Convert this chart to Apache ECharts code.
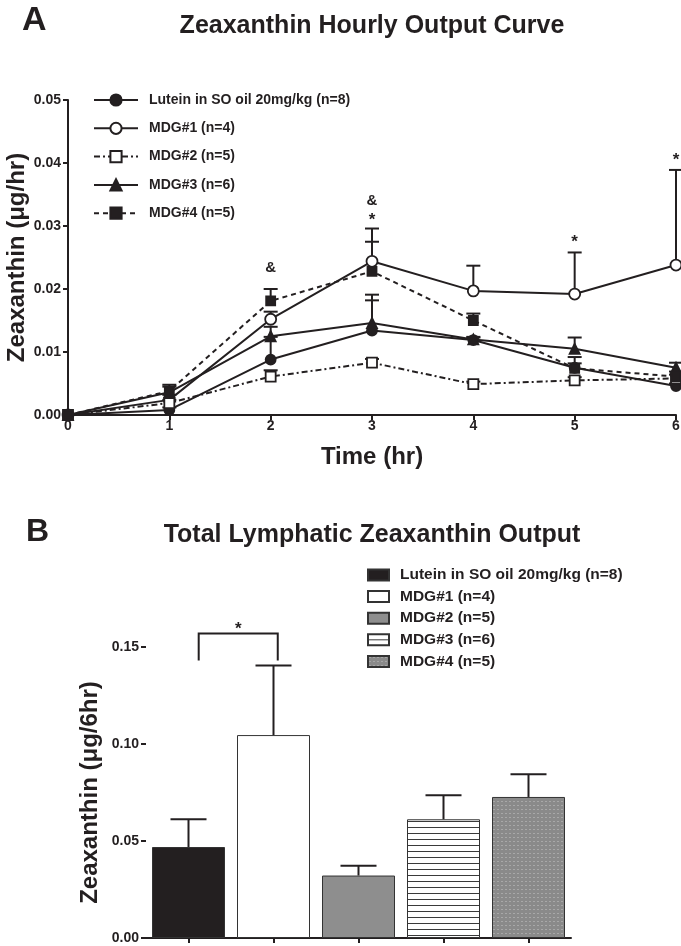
<!DOCTYPE html>
<html><head><meta charset="utf-8">
<script src="https://cdn.jsdelivr.net/npm/echarts@6/dist/echarts.min.js"></script>
<style>html,body{margin:0;padding:0;background:#fff}#c{width:681px;height:946px}</style>
</head><body><div id="c"></div>
<script>
// ---------- data ----------
const hours = [0, 1, 2, 3, 4, 5, 6];
const groupNames = ['Lutein in SO oil 20mg/kg (n=8)', 'MDG#1 (n=4)', 'MDG#2 (n=5)', 'MDG#3 (n=6)', 'MDG#4 (n=5)'];
const barCats = ['Lutein', 'MDG#1', 'MDG#2', 'MDG#3', 'MDG#4'];

const luteinMean = [0, 0.0008, 0.0088, 0.0134, 0.0119, 0.0075, 0.0046];
const luteinErr  = [0, 0.0004, 0.0036, 0.0048, 0.0004, 0.0007, 0.0004];
const mdg1Mean   = [0, 0.0024, 0.0152, 0.0244, 0.0197, 0.0192, 0.0238];
const mdg1Err    = [0, 0.0008, 0.0012, 0.0052, 0.0040, 0.0066, 0.0151];
const mdg2Mean   = [0, 0.0019, 0.0061, 0.0083, 0.0049, 0.0055, 0.0058];
const mdg2Err    = [0, 0.0005, 0.0010, 0.0006, 0.0004, 0.0005, 0.0006];
const mdg3Mean   = [0, 0.0036, 0.0125, 0.0146, 0.0120, 0.0105, 0.0075];
const mdg3Err    = [0, 0.0009, 0.0015, 0.0045, 0.0004, 0.0018, 0.0008];
const mdg4Mean   = [0, 0.0038, 0.0181, 0.0228, 0.0150, 0.0074, 0.0061];
const mdg4Err    = [0, 0.0010, 0.0019, 0.0047, 0.0011, 0.0018, 0.0008];

// significance marks on panel A (hour, value, symbol)
const annHour = [2, 3, 3, 5, 6];
const annValue = [0.0233, 0.0340, 0.0316, 0.0280, 0.0411];
const annText = ['&', '&', '*', '*', '*'];

const totalMean = [0.0469, 0.1046, 0.0322, 0.0612, 0.0727];
const totalErr  = [0.0143, 0.0358, 0.0051, 0.0124, 0.0117];
const sigPair = [0, 1];
const sigValue = 0.1569;
const sigText = '*';

// ---------- styling ----------
const ink = '#231f20';
const FF = "'Liberation Sans', Arial, Helvetica, sans-serif";
const means = [luteinMean, mdg1Mean, mdg2Mean, mdg3Mean, mdg4Mean];
const errs = [luteinErr, mdg1Err, mdg2Err, mdg3Err, mdg4Err];
const lineLook = [
  {symbol: 'circle', fill: ink, dash: 'solid', size: 10},
  {symbol: 'circle', fill: '#fff', dash: 'solid', size: 11},
  {symbol: 'rect', fill: '#fff', dash: [6, 3, 2, 3], size: 10},
  {symbol: 'triangle', fill: ink, dash: 'solid', size: 10},
  {symbol: 'rect', fill: ink, dash: [5, 4], size: 9}
];

function makePattern(w, h, draw) {
  const c = document.createElement('canvas');
  c.width = w; c.height = h;
  draw(c.getContext('2d'));
  return {image: c, repeat: 'repeat'};
}
const stripes = makePattern(8, 6, g => {
  g.fillStyle = '#fff'; g.fillRect(0, 0, 8, 6);
  g.fillStyle = '#3a3a3a'; g.fillRect(0, 5, 8, 1);
});
const dots = makePattern(4, 4, g => {
  g.fillStyle = '#8a8a8a'; g.fillRect(0, 0, 4, 4);
  g.fillStyle = '#a8a8a8'; g.fillRect(1, 1, 2, 1);
});
const barFills = [ink, '#fff', '#8e8e8e', stripes, dots];

const chart = echarts.init(document.getElementById('c'), null, {renderer: 'canvas'});

const axisCommon = {
  axisLine: {onZero: false, lineStyle: {color: ink, width: 2}},
  axisTick: {show: true, length: 5, lineStyle: {color: ink, width: 2}},
  axisLabel: {color: ink, fontSize: 14, fontWeight: 'bold', fontFamily: FF},
  splitLine: {show: false},
  nameMoveOverlap: false,
  nameTextStyle: {color: ink, fontSize: 24, fontWeight: 'bold', fontFamily: FF}
};

function errRender(capW) {
  return function (params, api) {
    const x = api.value(0), m = api.value(1), e = api.value(2);
    if (!e) return null;
    const p0 = api.coord([x, m]);
    const p1 = api.coord([x, m + e]);
    const st = {stroke: ink, lineWidth: 2};
    return {type: 'group', children: [
      {type: 'line', shape: {x1: p0[0], y1: p0[1], x2: p1[0], y2: p1[1]}, style: st},
      {type: 'line', shape: {x1: p1[0] - capW / 2, y1: p1[1], x2: p1[0] + capW / 2, y2: p1[1]}, style: st}
    ]};
  };
}

const series = [];
// error bars A
means.forEach((m, i) => {
  series.push({
    type: 'custom', xAxisIndex: 0, yAxisIndex: 0, z: 1, silent: true, clip: false,
    renderItem: errRender(14),
    encode: {x: 0, y: 1},
    data: hours.map((h, j) => [h, m[j], errs[i][j]])
  });
});
// lines A
means.forEach((m, i) => {
  const L = lineLook[i];
  series.push({
    type: 'line', name: groupNames[i], xAxisIndex: 0, yAxisIndex: 0, z: 3 + i,
    data: hours.map((h, j) => [h, m[j]]),
    symbol: L.symbol, symbolSize: L.size, showAllSymbol: true, clip: false,
    lineStyle: {color: ink, width: 2, type: L.dash},
    itemStyle: {color: L.fill, borderColor: ink, borderWidth: 1.8}
  });
});
// annotations A
series.push({
  type: 'custom', xAxisIndex: 0, yAxisIndex: 0, z: 10, silent: true, clip: false,
  encode: {x: 0, y: 1},
  data: annHour.map((h, i) => [h, annValue[i], i]),
  renderItem: (params, api) => {
    const p = api.coord([api.value(0), api.value(1)]);
    const t = annText[api.value(2)];
    return {type: 'text', x: p[0], y: p[1] + (t === '*' ? 4 : 0), style: {
      text: t, fill: ink, fontSize: t === '*' ? 17 : 15, fontWeight: 'bold', fontFamily: FF,
      align: 'center', verticalAlign: 'middle'}};
  }
});
// bars B
groupNames.forEach((n, i) => {
  series.push({
    type: 'bar', name: 'B|' + n, xAxisIndex: 1, yAxisIndex: 1, z: 2,
    data: barCats.map((c, j) => (j === i ? totalMean[i] : null)),
    barWidth: 73, barGap: '-100%',
    itemStyle: {color: barFills[i], borderColor: '#333', borderWidth: 1}
  });
});
// error bars B
series.push({
  type: 'custom', xAxisIndex: 1, yAxisIndex: 1, z: 3, silent: true, clip: false,
  renderItem: errRender(36),
  encode: {x: 0, y: 1},
  data: totalMean.map((m, i) => [i, m, totalErr[i]])
});
// significance bracket B
series.push({
  type: 'custom', xAxisIndex: 1, yAxisIndex: 1, z: 4, silent: true, clip: false,
  encode: {x: 0, y: 1},
  data: [[sigPair[0], sigValue, sigPair[1]]],
  renderItem: (params, api) => {
    const a = api.coord([api.value(0), api.value(1)]);
    const b = api.coord([api.value(2), api.value(1)]);
    const step = b[0] - a[0];
    const x1 = a[0] + step * 0.12, x2 = b[0] + step * 0.05, y = a[1];
    const st = {stroke: ink, lineWidth: 2};
    return {type: 'group', children: [
      {type: 'polyline', shape: {points: [[x1, y + 27], [x1, y], [x2, y], [x2, y + 27]]}, style: Object.assign({fill: null}, st)},
      {type: 'text', x: (x1 + x2) / 2, y: y - 4, style: {text: sigText, fill: ink, fontSize: 17, fontWeight: 'bold', fontFamily: FF, align: 'center', verticalAlign: 'middle'}}
    ]};
  }
});

chart.setOption({
  animation: false,
  backgroundColor: '#fff',
  textStyle: {fontFamily: FF},
  graphic: [
    {type: 'text', left: 22, top: 4, style: {text: 'A', fontSize: 34, fontWeight: 'bold', fontFamily: FF, fill: ink}},
    {type: 'text', x: 372, y: 26, style: {text: 'Zeaxanthin Hourly Output Curve', fontSize: 25, fontWeight: 'bold', fontFamily: FF, fill: ink, align: 'center', verticalAlign: 'middle'}},
    {type: 'text', left: 26, top: 516, style: {text: 'B', fontSize: 32, fontWeight: 'bold', fontFamily: FF, fill: ink}},
    {type: 'text', x: 372, y: 535, style: {text: 'Total Lymphatic Zeaxanthin Output', fontSize: 25, fontWeight: 'bold', fontFamily: FF, fill: ink, align: 'center', verticalAlign: 'middle'}}
  ],
  legend: [
    {
      data: groupNames, orient: 'vertical', left: 93, top: 93, padding: 0,
      itemWidth: 44, itemHeight: 14, itemGap: 14.3,
      textStyle: {color: ink, fontSize: 14, fontWeight: 'bold', fontFamily: FF, padding: [0, 0, 0, 6], lineHeight: 14},
      selectedMode: false
    },
    {
      data: groupNames.map(n => 'B|' + n), orient: 'vertical', left: 367, top: 567, padding: 0,
      icon: 'rect', itemWidth: 21, itemHeight: 11, itemGap: 5.6,
      formatter: n => n.slice(2),
      textStyle: {color: ink, fontSize: 15.5, fontWeight: 'bold', fontFamily: FF, padding: [0, 0, 0, 6], lineHeight: 16},
      selectedMode: false
    }
  ],
  grid: [
    {left: 68, top: 100, width: 608, height: 315, containLabel: false, outerBoundsMode: 'none'},
    {left: 146, top: 647, width: 425, height: 291, containLabel: false, outerBoundsMode: 'none'}
  ],
  xAxis: [
    Object.assign({}, axisCommon, {
      type: 'value', gridIndex: 0, min: 0, max: 6, interval: 1,
      name: 'Time (hr)', nameLocation: 'middle', nameGap: 30,
      axisLabel: Object.assign({}, axisCommon.axisLabel, {margin: 4})
    }),
    Object.assign({}, axisCommon, {
      type: 'category', gridIndex: 1, data: barCats,
      axisTick: {show: true, alignWithLabel: true, length: 5, lineStyle: {color: ink, width: 2}},
      axisLabel: {show: false}
    })
  ],
  yAxis: [
    Object.assign({}, axisCommon, {
      type: 'value', gridIndex: 0, min: 0, max: 0.05, interval: 0.01,
      name: 'Zeaxanthin (μg/hr)', nameLocation: 'middle', nameGap: 39, nameRotate: 90,
      axisLabel: Object.assign({}, axisCommon.axisLabel, {margin: 7, formatter: v => v.toFixed(2)})
    }),
    Object.assign({}, axisCommon, {
      type: 'value', gridIndex: 1, min: 0, max: 0.15, interval: 0.05,
      name: 'Zeaxanthin (μg/6hr)', nameLocation: 'middle', nameGap: 44, nameRotate: 90,
      axisLabel: Object.assign({}, axisCommon.axisLabel, {margin: 7, formatter: v => v.toFixed(2)})
    })
  ],
  series: series
});
</script></body></html>
